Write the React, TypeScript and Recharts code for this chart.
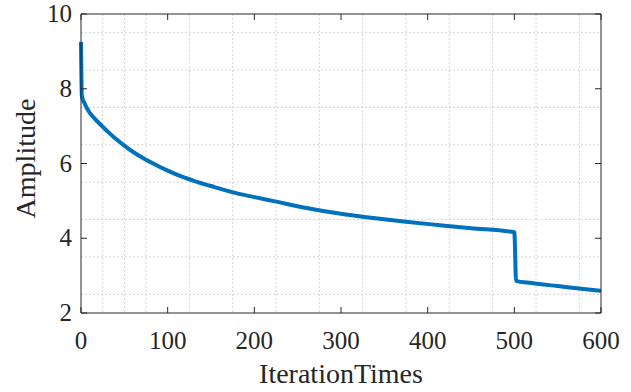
import React from 'react';
import { LineChart, Line, XAxis, YAxis, CartesianGrid } from 'recharts';

const iterations = [0, 1, 4, 8, 15, 23, 31, 39, 50, 62, 75, 85, 100, 115, 131, 154, 177, 196, 221, 260, 298, 337, 375, 414, 450, 500, 502, 520, 550, 580, 600];
const amplitude = [9.25, 7.8, 7.62, 7.43, 7.22, 7.03, 6.85, 6.68, 6.48, 6.28, 6.1, 5.98, 5.81, 5.66, 5.53, 5.37, 5.22, 5.12, 5.0, 4.81, 4.66, 4.54, 4.44, 4.35, 4.27, 4.16, 2.86, 2.8, 2.72, 2.64, 2.59];

const xTicks = [0, 100, 200, 300, 400, 500, 600];
const yTicks = [2, 4, 6, 8, 10];
const xMinor = [25, 50, 75, 100, 125, 150, 175, 200, 225, 250, 275, 300, 325, 350, 375, 400, 425, 450, 475, 500, 525, 550, 575];
const yMinor = [2.5, 3, 3.5, 4, 4.5, 5, 5.5, 6, 6.5, 7, 7.5, 8, 8.5, 9, 9.5];

const data = iterations.map((x, i) => ({ x, y: amplitude[i] }));

const FONT = '"Liberation Serif", "Times New Roman", Times, serif';
const AXIS = '#262626';

const XTick = (props: any) => {
  const { x, y, payload } = props;
  return (
    <text x={x} y={y} dy={18} textAnchor="middle" fill={AXIS} fontFamily={FONT} fontSize={25}>
      {payload.value}
    </text>
  );
};

const YTick = (props: any) => {
  const { x, y, payload } = props;
  return (
    <text x={x} y={y} dy={8} textAnchor="end" fill={AXIS} fontFamily={FONT} fontSize={25}>
      {payload.value}
    </text>
  );
};

const YLabel = (props: any) => {
  const vb = props.viewBox || { x: 0, y: 14, width: 81, height: 299 };
  const cx = vb.x + 25;
  const cy = vb.y + vb.height / 2 - 5;
  return (
    <text
      x={cx}
      y={cy}
      transform={`rotate(-90 ${cx} ${cy})`}
      textAnchor="middle"
      dominantBaseline="central"
      fill={AXIS}
      fontFamily={FONT}
      fontSize={28}
    >
      Amplitude
    </text>
  );
};

export default function App() {
  return (
    <div style={{ position: 'absolute', left: 0, top: 0, width: 631, height: 392, background: '#fff', fontFamily: FONT }}>
      <LineChart width={631} height={392} data={data} margin={{ top: 13, right: 29, bottom: 0, left: 0 }}>
        <CartesianGrid
          stroke="#d4d4d4"
          strokeDasharray="2 2"
          horizontalValues={yMinor}
          verticalValues={xMinor}
        />
        <XAxis
          dataKey="x"
          type="number"
          domain={[0, 600]}
          ticks={xTicks}
          height={79}
          tickSize={-6}
          tickMargin={24}
          stroke={AXIS}
          tick={<XTick />}
          label={{ value: 'IterationTimes', position: 'insideBottom', offset: 9, fill: AXIS, fontFamily: FONT, fontSize: 28 }}
        />
        <XAxis
          xAxisId="top"
          orientation="top"
          dataKey="x"
          type="number"
          domain={[0, 600]}
          ticks={xTicks}
          height={1}
          tickSize={-6}
          stroke={AXIS}
          tick={() => <g />}
        />
        <YAxis
          type="number"
          domain={[2, 10]}
          ticks={yTicks}
          width={81}
          tickSize={-6}
          tickMargin={15}
          stroke={AXIS}
          tick={<YTick />}
          label={{ content: YLabel }}
        />
        <YAxis
          yAxisId="right"
          orientation="right"
          type="number"
          domain={[2, 10]}
          ticks={yTicks}
          width={1}
          tickSize={-6}
          stroke={AXIS}
          tick={() => <g />}
        />
        <Line
          xAxisId="top"
          yAxisId="right"
          type="monotone"
          dataKey="y"
          stroke="none"
          dot={false}
          activeDot={false}
          isAnimationActive={false}
        />
        <Line
          type="monotone"
          dataKey="y"
          stroke="#0072BD"
          strokeWidth={4}
          dot={false}
          isAnimationActive={false}
        />
      </LineChart>
    </div>
  );
}
